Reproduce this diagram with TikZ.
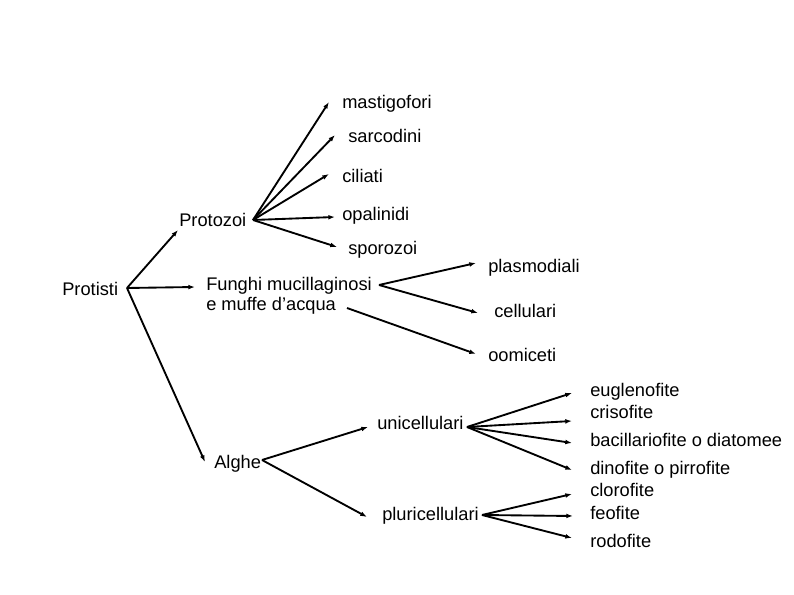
\documentclass[tikz,border=0pt]{standalone}
\usepackage{fontspec}
\setmainfont{Liberation Sans}
\usetikzlibrary{arrows.meta,calc}
\begin{document}
\begin{tikzpicture}[x=0.75pt,y=-0.75pt,
  lbl/.style={inner sep=0pt,anchor=west,text height=9.8pt,text depth=0pt,font=\fontsize{13.7pt}{14.8pt}\selectfont},
  conn/.style={line width=1.4pt,-{Latex[length=5pt,width=3.6pt]}}]
\useasboundingbox[fill=white] (0,0) rectangle (794,595);
% nodes
\node[lbl] (Protisti) at (62,289) {Protisti};
\node[lbl] (Protozoi) at (179,220) {Protozoi};
\node[lbl] (mast) at (342,102) {mastigofori};
\node[lbl] (sarc) at (348,136) {sarcodini};
\node[lbl] (cil) at (342,176) {ciliati};
\node[lbl] (opal) at (342,214) {opalinidi};
\node[lbl] (spor) at (348,248) {sporozoi};
\node[lbl,anchor=north west,align=left,text height=,text depth=] (Funghi) at (206,277) {Funghi mucillaginosi\\e muffe d’acqua};
\node[lbl] (plas) at (488,266) {plasmodiali};
\node[lbl] (cell) at (494,311) {cellulari};
\node[lbl] (oom) at (488,355) {oomiceti};
\node[lbl] (Alghe) at (214,462) {Alghe};
\node[lbl] (uni) at (377,423) {unicellulari};
\node[lbl] (pluri) at (382,514) {pluricellulari};
\node[lbl] (eug) at (590,390) {euglenofite};
\node[lbl] (cris) at (590,412) {crisofite};
\node[lbl] (bac) at (590,440) {bacillariofite o diatomee};
\node[lbl] (dino) at (590,468) {dinofite o pirrofite};
\node[lbl] (clor) at (590,490) {clorofite};
\node[lbl] (feo) at (590,513) {feofite};
\node[lbl] (rodo) at (590,541) {rodofite};
% branch points
\coordinate (bPr) at (127,288);
\coordinate (bPz) at (253,220);
\coordinate (bF) at (379,285);
\coordinate (bF2) at (347,308);
\coordinate (bA) at (262,460);
\coordinate (bU) at (467,427);
\coordinate (bPl) at (482,515);
% connectors
\draw[conn] (bPr) -- ($(Protozoi.west)+(-1,10)$);
\draw[conn] (bPr) -- ($(Funghi.north west)+(-11,10)$);
\draw[conn] (bPr) -- ($(Alghe.west)+(-9,0)$);
\draw[conn] (bPz) -- ($(mast.west)+(-13,0)$);
\draw[conn] (bPz) -- ($(sarc.west)+(-13,-1)$);
\draw[conn] (bPz) -- ($(cil.west)+(-13,-2)$);
\draw[conn] (bPz) -- ($(opal.west)+(-7,3)$);
\draw[conn] (bPz) -- ($(spor.west)+(-11,-1)$);
\draw[conn] (bF) -- ($(plas.west)+(-12,-3)$);
\draw[conn] (bF) -- ($(cell.west)+(-16,2)$);
\draw[conn] (bF2) -- ($(oom.west)+(-12,-1)$);
\draw[conn] (bA) -- ($(uni.west)+(-9,4)$);
\draw[conn] (bA) -- ($(pluri.west)+(-15,3)$);
\draw[conn] (bU) -- ($(eug.west)+(-18,3)$);
\draw[conn] (bU) -- ($(cris.west)+(-18,9)$);
\draw[conn] (bU) -- ($(bac.west)+(-18,3)$);
\draw[conn] (bU) -- ($(dino.west)+(-18,2)$);
\draw[conn] (bPl) -- ($(clor.west)+(-18,4)$);
\draw[conn] (bPl) -- ($(feo.west)+(-17,3)$);
\draw[conn] (bPl) -- ($(rodo.west)+(-18,-3)$);
\end{tikzpicture}
\end{document}
